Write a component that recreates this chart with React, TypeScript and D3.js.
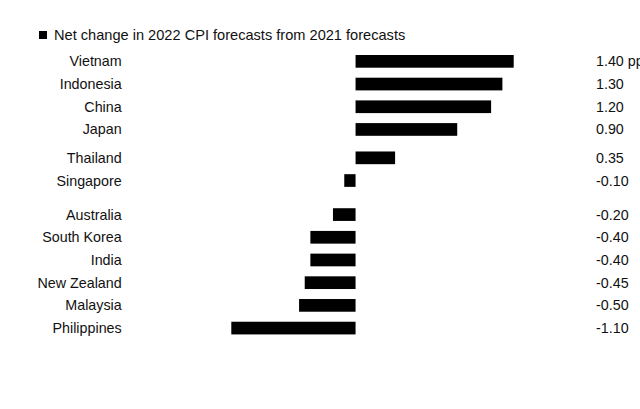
import React from "react";
import * as d3 from "d3";

const countries = ["Vietnam", "Indonesia", "China", "Japan", "Thailand", "Singapore", "Australia", "South Korea", "India", "New Zealand", "Malaysia", "Philippines"];
const changes = [1.4, 1.3, 1.2, 0.9, 0.35, -0.1, -0.2, -0.4, -0.4, -0.45, -0.5, -1.1];
const valueLabels = ["1.40 pp", "1.30", "1.20", "0.90", "0.35", "-0.10", "-0.20", "-0.40", "-0.40", "-0.45", "-0.50", "-1.10"];
// extra spacing (in row units) before a row, separating groups
const gapBefore = [0, 0, 0, 0, 0.25, 0, 0.5, 0, 0, 0, 0, 0];
const legendLabel = "Net change in 2022 CPI forecasts from 2021 forecasts";

const W = 640;
const H = 409;
const FONT = "'Liberation Sans', Arial, Helvetica, sans-serif";

export default function App() {
  const x = d3.scaleLinear().domain([-1.1, 1.4]).range([231.3, 513.7]);
  const slots: number[] = [];
  let acc = 0;
  countries.forEach((_, i) => {
    acc += gapBefore[i];
    slots.push(i + acc);
  });
  const rowStep = 22.7;
  const y = d3.scaleLinear().domain([0, 1]).range([55, 55 + rowStep]);
  const barH = 12.7;
  const labelX = 121.7;
  const valueX = 596;

  return (
    <svg width={W} height={H} style={{ position: "absolute", left: 0, top: 0, background: "#fff" }} fontFamily={FONT}>
      <rect x={0} y={0} width={W} height={H} fill="#fff" />
      <rect x={39} y={31} width={8} height={8} fill="#000" />
      <text x={54} y={39.5} fontSize={14.6} fill="#111">{legendLabel}</text>
      {countries.map((c, i) => {
        const v = changes[i];
        const top = y(slots[i]);
        const cy = top + barH / 2;
        return (
          <g key={c}>
            <text x={labelX} y={cy + 5} fontSize={14.3} textAnchor="end" fill="#111">{c}</text>
            <rect x={Math.min(x(0), x(v))} y={top} width={Math.abs(x(v) - x(0))} height={barH} fill="#000" />
            <text x={valueX} y={cy + 5} fontSize={14.3} fill="#111">{valueLabels[i]}</text>
          </g>
        );
      })}
    </svg>
  );
}
